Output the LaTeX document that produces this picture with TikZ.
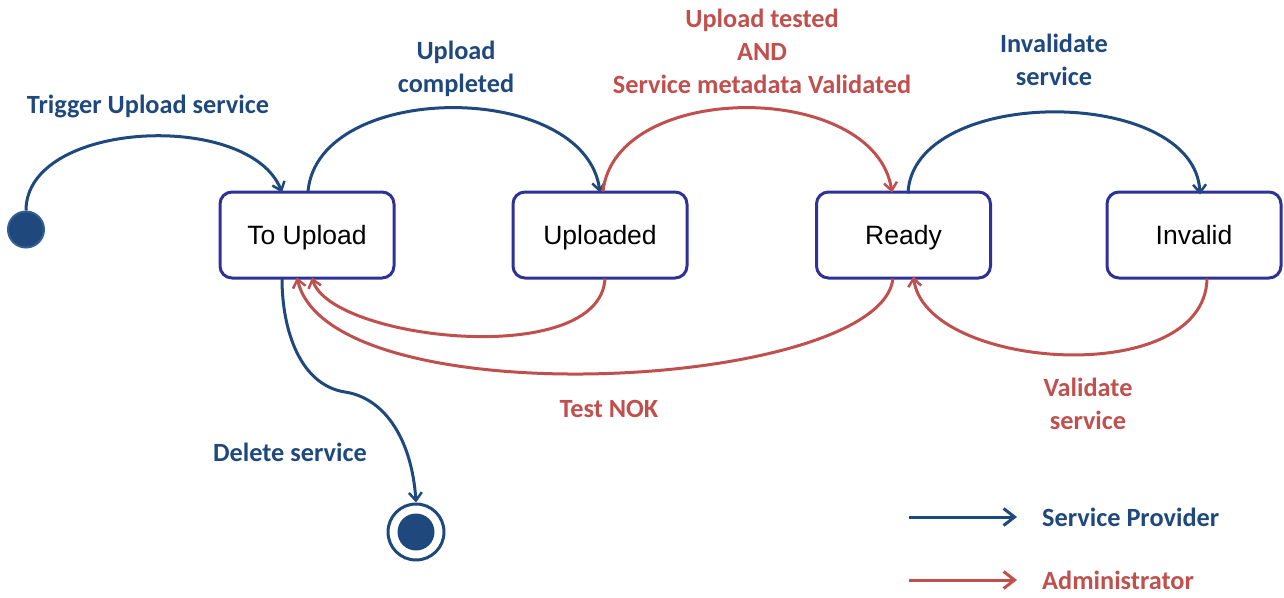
\documentclass[tikz,border=0pt]{standalone}
\usepackage{fontspec}
\setmainfont{Carlito}
\newfontfamily\boxfont{Liberation Sans}
\usetikzlibrary{arrows.meta}
\definecolor{cblue}{RGB}{31,73,125}
\definecolor{cblueedge}{RGB}{50,95,145}
\definecolor{cred}{RGB}{192,80,77}
\definecolor{cbox}{RGB}{46,49,150}
\tikzset{
  state/.style={draw=cbox, line width=3pt, rounded corners=12pt, minimum width=174pt, minimum height=86pt, text height=19pt, text depth=0pt, font=\boxfont\fontsize{26.5}{30}\selectfont, text=black},
  sp/.style={draw=cblue, line width=3pt, -{Straight Barb[length=8pt,width=13pt,line width=2.5pt]}},
  adm/.style={draw=cred, line width=3pt, -{Straight Barb[length=8pt,width=13pt,line width=2.5pt]}},
  legsp/.style={draw=cblue, line width=3pt, -{Straight Barb[length=11pt,width=17pt,line width=3pt]}},
  legadm/.style={draw=cred, line width=3pt, -{Straight Barb[length=11pt,width=17pt,line width=3pt]}},
  lblb/.style={text=cblue, font=\bfseries\fontsize{26.3}{33}\selectfont, align=center, inner sep=0pt},
  lblr/.style={text=cred, font=\bfseries\fontsize{26.3}{33}\selectfont, align=center, inner sep=0pt},
}
\begin{document}
\begin{tikzpicture}[x=1pt,y=-1pt]
\useasboundingbox (0,0) rectangle (1284,597);
% states
\node[state] (tu) at (307,235) {To Upload};
\node[state] (up) at (600,235) {Uploaded};
\node[state] (rd) at (903.5,235) {Ready};
\node[state] (inv) at (1194,235) {Invalid};
% start / end
\node[circle, fill=cblue, draw=cblueedge, line width=2pt, minimum size=36pt, inner sep=0pt] (start) at (26,229.5) {};
\node[circle, draw=cblue, line width=3pt, minimum size=56pt, inner sep=0pt,
  path picture={\fill[cblue] (path picture bounding box.center) circle (18.5pt);}] (end) at (416,532) {};
% transitions
\draw[sp] (start.north) .. controls (26,120) and (250,110) .. ([xshift=-25pt,yshift=-2pt]tu.north);
\draw[sp] ([xshift=1pt,yshift=-1pt]tu.north) .. controls (318,80) and (585,80) .. ([yshift=-2pt]up.north);
\draw[adm] ([xshift=3pt,yshift=-1pt]up.north) .. controls (615,80) and (875,80) .. ([xshift=-11.5pt,yshift=-2pt]rd.north);
\draw[sp] ([xshift=4.5pt,yshift=-3pt]rd.north) .. controls (912,85) and (1195,85) .. ([xshift=6pt,yshift=-4pt]inv.north);
\draw[adm] ([xshift=5pt,yshift=1pt]up.south) .. controls (600,370) and (330,340) .. ([xshift=5pt,yshift=2pt]tu.south);
\draw[adm] ([xshift=-10.5pt,yshift=1pt]rd.south) .. controls (880,390) and (330,420) .. ([xshift=-10pt,yshift=2pt]tu.south);
\draw[adm] ([xshift=13pt,yshift=1pt]inv.south) .. controls (1205,390) and (925,370) .. ([xshift=10pt,yshift=3pt]rd.south);
\draw[sp] ([xshift=-25pt,yshift=1pt]tu.south) .. controls (282,330) and (300,385) .. (345,392) .. controls (385,398) and (412,440) .. (end.north);
% labels
\node[lblb] (l1) at (148,106) {Trigger Upload service};
\node[lblb] (l2) at (456,68.5) {Upload\\completed};
\node[lblr] (l3) at (762,51.5) {Upload tested\\AND\\Service metadata Validated};
\node[lblb] (l4) at (1054,60) {Invalidate\\service};
\node[lblr] (l5) at (609,409) {Test NOK};
\node[lblr] (l6) at (1088,404) {Validate\\service};
\node[lblb] (l7) at (290,452) {Delete service};
% legend
\coordinate (a1) at (909,517);
\coordinate (b1) at (1017,517);
\coordinate (a2) at (909,580);
\coordinate (b2) at (1017,580);
\draw[legsp] (a1) -- (b1);
\draw[legadm] (a2) -- (b2);
\node[lblb, anchor=west] (lg1) at (1042,517) {Service Provider};
\node[lblr, anchor=west] (lg2) at (1042,580) {Administrator};
\end{tikzpicture}
\end{document}
